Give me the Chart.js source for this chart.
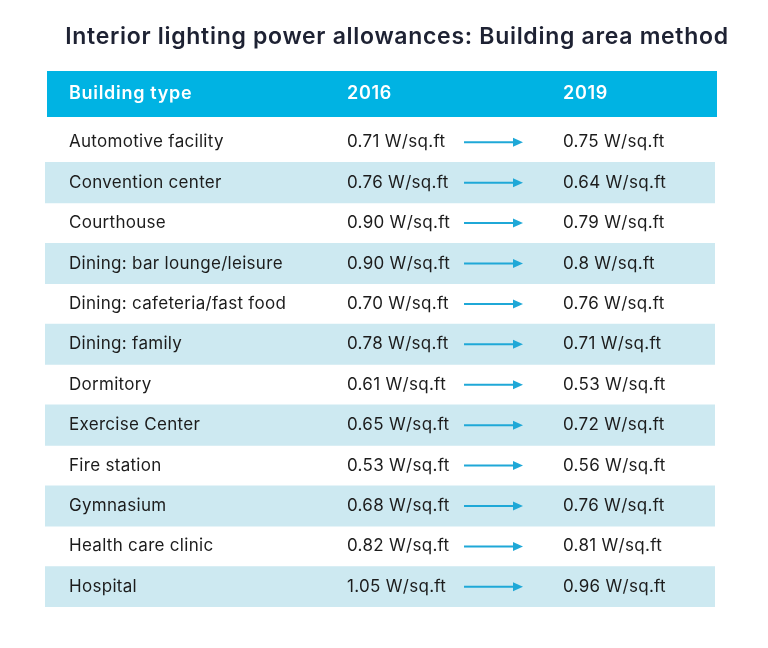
<!DOCTYPE html>
<html>
<head>
<meta charset="utf-8">
<script src="https://cdn.jsdelivr.net/npm/chart.js@4.4.0/dist/chart.umd.min.js"></script>
<style>
  html, body { margin: 0; padding: 0; background: #ffffff; }
  #wrap { width: 768px; height: 648px; }
</style>
</head>
<body>
<div id="wrap"><canvas id="table-chart" width="768" height="648"></canvas></div>
<script>
// Table data
const chartTitle = 'Interior lighting power allowances: Building area method';
const columnHeaders = ['Building type', '2016', '2019'];
const buildingTypes = [
    'Automotive facility',
    'Convention center',
    'Courthouse',
    'Dining: bar lounge/leisure',
    'Dining: cafeteria/fast food',
    'Dining: family',
    'Dormitory',
    'Exercise Center',
    'Fire station',
    'Gymnasium',
    'Health care clinic',
    'Hospital'
];
const values2016 = ['0.71', '0.76', '0.90', '0.90', '0.70', '0.78', '0.61', '0.65', '0.53', '0.68', '0.82', '1.05'];
const values2019 = ['0.75', '0.64', '0.79', '0.8', '0.76', '0.71', '0.53', '0.72', '0.56', '0.76', '0.81', '0.96'];
const unitLabel = ' W/sq.ft';

// Column positions on the x scale (0 = left edge of table, 1 = right edge)
const colX = [0.0358, 0.4507, 0.7731];
const arrowFrom = 0.6254;
const arrowTo = 0.7134;

const FONT = "'Inter', 'Noto Sans', sans-serif";
const HEADER_COLOR = '#00b3e3';
const STRIPE_COLOR = '#cde9f1';
const TEXT_COLOR = '#1c1c1c';
const ARROW_COLOR = '#1fa8d7';

// Stripe every second row
const stripeData = buildingTypes.map((_, i) => (i % 2 === 1 ? [0, 1] : null));

// Plugin that draws the title, header band, cell text and arrows
const tablePlugin = {
    id: 'tablePlugin',
    afterDatasetsDraw(chart) {
        const ctx = chart.ctx;
        const xs = chart.scales.x;
        const ys = chart.scales.y;

        ctx.save();

        // Title
        ctx.fillStyle = '#1e2233';
        ctx.font = "600 23px " + FONT;
        ctx.letterSpacing = '0.7px';
        ctx.textAlign = 'center';
        ctx.textBaseline = 'middle';
        ctx.fillText(chartTitle, 397, 37);

        // Header band
        const left = xs.getPixelForValue(0);
        const right = xs.getPixelForValue(1);
        ctx.fillStyle = HEADER_COLOR;
        ctx.fillRect(left + 2, 71, right - left, 46);

        ctx.fillStyle = '#ffffff';
        ctx.font = "600 18px " + FONT;
        ctx.letterSpacing = '0.7px';
        ctx.textAlign = 'left';
        columnHeaders.forEach((h, c) => {
            ctx.fillText(h, xs.getPixelForValue(colX[c]), 94);
        });

        // Body cells
        ctx.font = "400 17px " + FONT;
        ctx.letterSpacing = '0.3px';
        buildingTypes.forEach((name, i) => {
            const y = ys.getPixelForValue(i);
            ctx.fillStyle = TEXT_COLOR;
            ctx.fillText(name, xs.getPixelForValue(colX[0]), y);
            ctx.fillText(values2016[i] + unitLabel, xs.getPixelForValue(colX[1]), y);
            ctx.fillText(values2019[i] + unitLabel, xs.getPixelForValue(colX[2]), y);

            // Arrow
            const x1 = xs.getPixelForValue(arrowFrom);
            const x2 = xs.getPixelForValue(arrowTo);
            ctx.strokeStyle = ARROW_COLOR;
            ctx.lineWidth = 2;
            ctx.beginPath();
            ctx.moveTo(x1, y);
            ctx.lineTo(x2 - 8, y);
            ctx.stroke();
            ctx.fillStyle = ARROW_COLOR;
            ctx.beginPath();
            ctx.moveTo(x2, y);
            ctx.lineTo(x2 - 10, y - 4.5);
            ctx.lineTo(x2 - 10, y + 4.5);
            ctx.closePath();
            ctx.fill();
        });

        ctx.restore();
    }
};

const ctx = document.getElementById('table-chart').getContext('2d');
const tableChart = new Chart(ctx, {
    type: 'bar',
    data: {
        labels: buildingTypes,
        datasets: [{
            label: 'stripes',
            data: stripeData,
            backgroundColor: STRIPE_COLOR,
            borderWidth: 0,
            barPercentage: 1,
            categoryPercentage: 1
        }]
    },
    options: {
        indexAxis: 'y',
        responsive: false,
        animation: false,
        events: [],
        layout: {
            padding: { left: 45, right: 53, top: 122, bottom: 41 }
        },
        plugins: {
            legend: { display: false },
            tooltip: { enabled: false },
            title: { display: false }
        },
        scales: {
            x: { type: 'linear', min: 0, max: 1, display: false },
            y: { type: 'category', display: false, offset: true }
        }
    },
    plugins: [tablePlugin]
});
</script>
</body>
</html>
